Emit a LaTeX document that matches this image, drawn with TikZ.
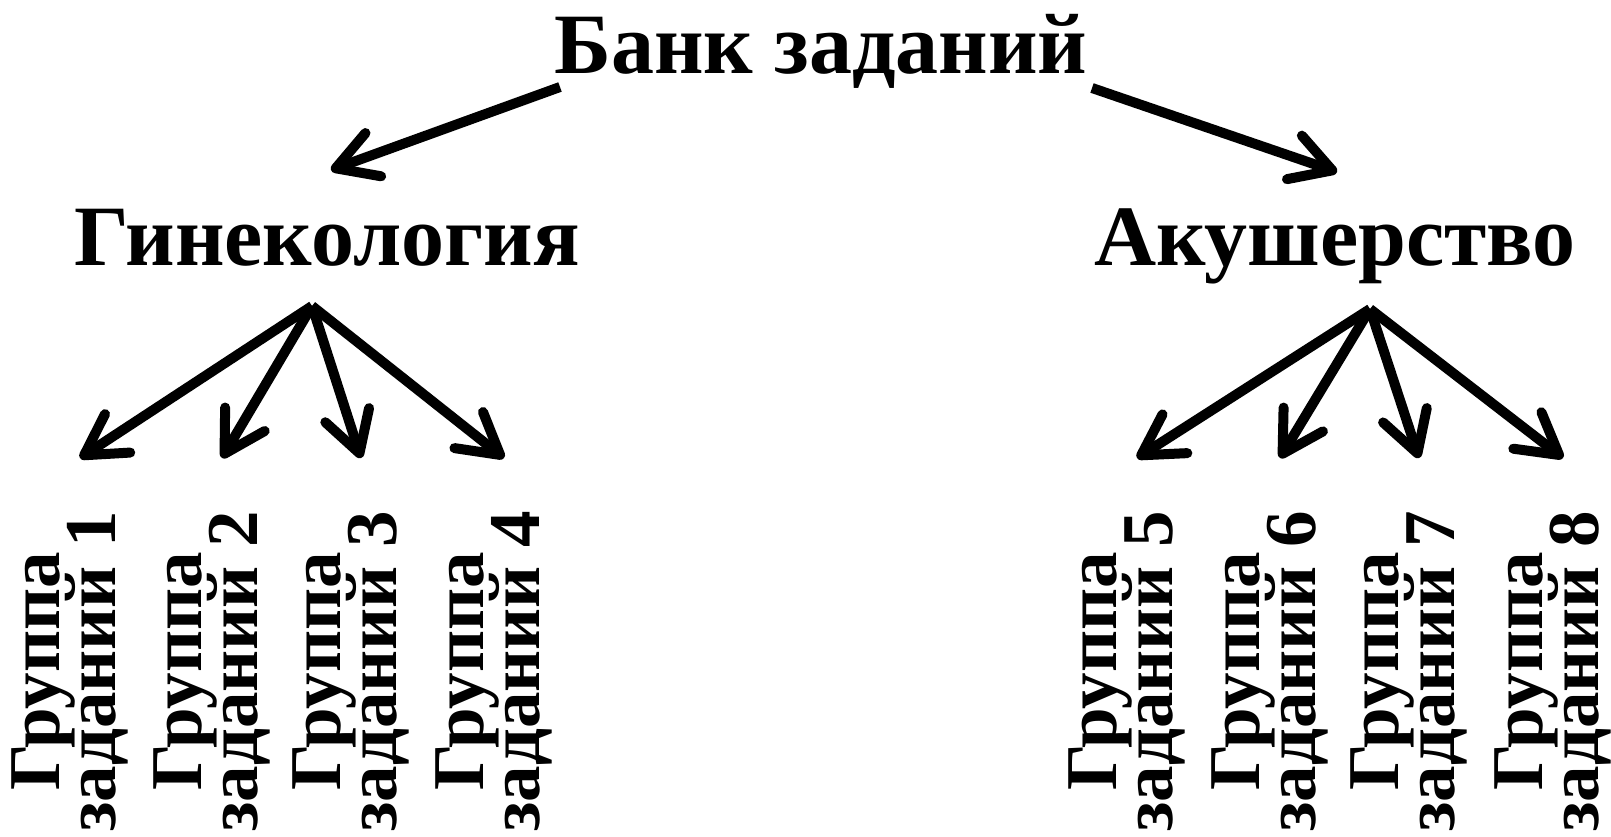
\documentclass[tikz,border=0pt]{standalone}
\usepackage{fontspec}
\setmainfont{Liberation Serif}
\usetikzlibrary{arrows.meta,positioning,calc}

\newcommand\grpfont{\bfseries\fontsize{73}{56}\selectfont
  \setlength{\lineskiplimit}{-100pt}\relax}

\begin{document}
\begin{tikzpicture}[x=1pt,y=-1pt,
arr/.style={-{Straight Barb[length=40pt,width=46pt,round]},line width=10pt}]
\tikzstyle{head}=[font=\bfseries\fontsize{86}{90}\selectfont,
inner sep=0pt,anchor=base]
\tikzstyle{grp}=[font=\grpfont,
align=center,rotate=90,inner sep=0pt,anchor=east]

\useasboundingbox (0,0) rectangle (1611,837);

\node[head] (B) at (821,74) {Банк заданий};
\node[head] (G) at (327,265) {Гинекология};
\node[head] (A) at (1335,265) {Акушерство};

%groups of tasks
\foreach \n/\x in {1/70,2/212,3/351,4/494,5/1127,6/1270,7/1409,8/1553}
  \node[grp] (T\n) at (\x,511) {Группа\\заданий \n};

%arrow ends
\coordinate (B-l) at (560,87);
\coordinate (B-r) at (1092,88);
\coordinate (G-t) at (331,170);
\coordinate (A-t) at (1337,172);
\coordinate (G-b) at (312,306);
\coordinate (A-b) at (1370,309);

\draw[arr] (B-l) -- (G-t);
\draw[arr] (B-r) -- (A-t);

\foreach \n in {1,...,4}
  \draw[arr] (G-b) -- ([shift={(10,-53)}]T\n.east);
\foreach \n in {5,...,8}
  \draw[arr] (A-b) -- ([shift={(10,-53)}]T\n.east);

\end{tikzpicture}
\end{document}
